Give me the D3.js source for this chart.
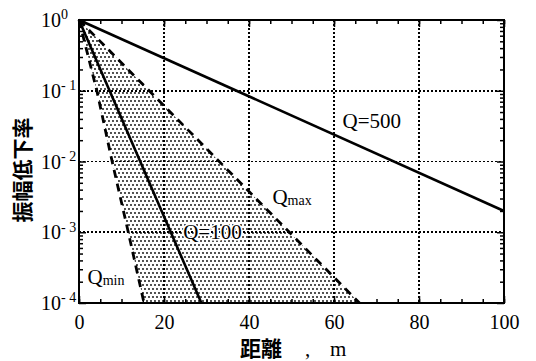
<!DOCTYPE html>
<html><head><meta charset="utf-8">
<script src="https://cdn.jsdelivr.net/npm/d3@7"></script>
<style>body{margin:0;background:#fff}svg{display:block}</style>
</head><body>
<svg id="c" width="536" height="361"></svg>
<script>
// ---- data ----
const xTicks = [0, 20, 40, 60, 80, 100];
const yExps = [0, -1, -2, -3, -4];
const q500X = [0, 100], q500Y = [1, 2e-3];
const q100X = [0, 28.8], q100Y = [1, 1e-4];
const qmaxX = [0, 66], qmaxY = [1, 1e-4];
const qminX = [0, 4.2, 7.8, 11.6, 15.3], qminY = [1, 1e-1, 1e-2, 1e-3, 1e-4];
const labels = [
  {t: "Q=500", x: 62, y: 3.0e-2},
  {t: "Q=100", x: 24.5, y: 7.9e-4},
];

// ---- layout ----
const W = 536, H = 361;
const m = {l: 79, r: 32, t: 20, b: 58};
const svg = d3.select("#c");
const x = d3.scaleLinear().domain([0, 100]).range([m.l, W - m.r]);
const y = d3.scaleLog().domain([1e-4, 1]).range([H - m.b, m.t]);
const serif = "'Liberation Serif','Times New Roman',serif";
const cjk = "'Noto Sans CJK JP','Noto Sans CJK SC',sans-serif";

// pattern
const defs = svg.append("defs");
const pat = defs.append("pattern").attr("id", "dots").attr("patternUnits", "userSpaceOnUse")
  .attr("width", 4).attr("height", 8);
pat.append("circle").attr("cx", 1).attr("cy", 1).attr("r", 0.9).attr("fill", "#000");
pat.append("circle").attr("cx", 3).attr("cy", 5).attr("r", 0.9).attr("fill", "#000");

// grid
const g = svg.append("g").attr("shape-rendering", "crispEdges");
g.selectAll(".gx").data(xTicks.slice(1, -1)).join("line")
  .attr("x1", d => x(d)).attr("x2", d => x(d)).attr("y1", y(1)).attr("y2", y(1e-4))
  .attr("stroke", "#000").attr("stroke-width", 1.6).attr("stroke-dasharray", "2,2");
g.selectAll(".gy").data(yExps.slice(1, -1)).join("line")
  .attr("y1", d => y(Math.pow(10, d))).attr("y2", d => y(Math.pow(10, d))).attr("x1", x(0)).attr("x2", x(100))
  .attr("stroke", "#000").attr("stroke-width", 1.6).attr("stroke-dasharray", "2,2");

// shaded region between Qmin and Qmax
const poly = qmaxX.map((v, i) => [v, qmaxY[i]])
  .concat(qminX.map((v, i) => [v, qminY[i]]).reverse());
const line = d3.line().x(d => x(d[0])).y(d => y(d[1]));
svg.append("path").attr("d", line(poly) + "Z").attr("fill", "url(#dots)");

// lines
function draw(xs, ys, dash) {
  svg.append("path").attr("d", line(xs.map((v, i) => [v, ys[i]])))
    .attr("fill", "none").attr("stroke", "#000").attr("stroke-width", dash ? 2.8 : 2.6)
    .attr("stroke-dasharray", dash ? "8,6" : null);
}
draw(qmaxX, qmaxY, true);
draw(qminX, qminY, true);
draw(q100X, q100Y, false);
draw(q500X, q500Y, false);

// axes (inward ticks)
const minorX = d3.range(0, 101, 5);
svg.append("g").attr("transform", `translate(0,${y(1e-4)})`)
  .call(d3.axisBottom(x).tickValues(minorX).tickSize(-4).tickFormat(""));
const axB2 = svg.append("g").attr("transform", `translate(0,${y(1e-4)})`)
  .call(d3.axisBottom(x).tickValues(xTicks).tickSize(-7).tickPadding(12)
    .tickFormat(d3.format("d")));
svg.append("g").attr("transform", `translate(0,${y(1)})`)
  .call(d3.axisTop(x).tickValues(minorX).tickSize(-4).tickFormat(""));
svg.append("g").attr("transform", `translate(0,${y(1)})`)
  .call(d3.axisTop(x).tickValues(xTicks).tickSize(-7).tickFormat(""));
const minorY = [];
for (let e = -4; e < 0; e++) for (let k = 2; k <= 9; k++) minorY.push(k * Math.pow(10, e));
const majorY = yExps.map(e => Math.pow(10, e));
svg.append("g").attr("transform", `translate(${x(0)},0)`)
  .call(d3.axisLeft(y).tickValues(minorY).tickSize(-4).tickFormat(""));
svg.append("g").attr("transform", `translate(${x(0)},0)`)
  .call(d3.axisLeft(y).tickValues(majorY).tickSize(-7).tickFormat(""));
svg.append("g").attr("transform", `translate(${x(100)},0)`)
  .call(d3.axisRight(y).tickValues(minorY).tickSize(-4).tickFormat(""));
svg.append("g").attr("transform", `translate(${x(100)},0)`)
  .call(d3.axisRight(y).tickValues(majorY).tickSize(-7).tickFormat(""));
svg.selectAll(".domain").remove();
svg.selectAll(".tick line").attr("stroke", "#000").attr("stroke-width", 1.5);
axB2.selectAll("text").attr("font-family", serif).attr("font-size", 20).attr("fill", "#000");

// frame
svg.append("rect").attr("x", x(0)).attr("y", y(1)).attr("width", x(100) - x(0)).attr("height", y(1e-4) - y(1))
  .attr("fill", "none").attr("stroke", "#000").attr("stroke-width", 2);

// y tick labels
const yl = svg.append("g").attr("font-family", serif).attr("fill", "#000");
yExps.forEach(e => {
  const t = yl.append("text").attr("x", 41).attr("y", y(Math.pow(10, e))).attr("dy", "0.35em").attr("font-size", 20);
  t.append("tspan").text("10");
  t.append("tspan").attr("dy", "-0.55em").attr("font-size", 14).text(e === 0 ? "0" : "- " + (-e));
});

// y axis title
svg.append("text").attr("transform", "translate(30,170) rotate(-90)").attr("text-anchor", "middle")
  .attr("font-family", cjk).attr("font-weight", 700).attr("font-size", 21).text("振幅低下率");

// x axis title
const xt = svg.append("text").attr("y", 356).attr("font-size", 21).attr("fill", "#000");
xt.append("tspan").attr("x", 240).attr("font-family", cjk).attr("font-weight", 700).text("距離");
xt.append("tspan").attr("x", 305).attr("font-family", serif).text(",");
xt.append("tspan").attr("x", 330).attr("font-family", serif).text("m");

// curve labels
labels.forEach(l => {
  svg.append("text").attr("x", x(l.x)).attr("y", y(l.y)).attr("font-family", serif).attr("font-size", 21)
    .attr("stroke", "#fff").attr("stroke-width", 3).attr("paint-order", "stroke").text(l.t);
});
const qm = svg.append("text").attr("x", x(45.5)).attr("y", y(2.5e-3)).attr("font-family", serif).attr("font-size", 21).attr("fill", "#000");
qm.append("tspan").text("Q");
qm.append("tspan").attr("font-size", 14).attr("dy", 1).text("max");
const qn = svg.append("text").attr("x", x(2)).attr("y", y(1.85e-4)).attr("font-family", serif).attr("font-size", 21).attr("fill", "#000");
qn.append("tspan").text("Q");
qn.append("tspan").attr("font-size", 14).attr("dy", 1).text("min");
</script>
</body></html>
